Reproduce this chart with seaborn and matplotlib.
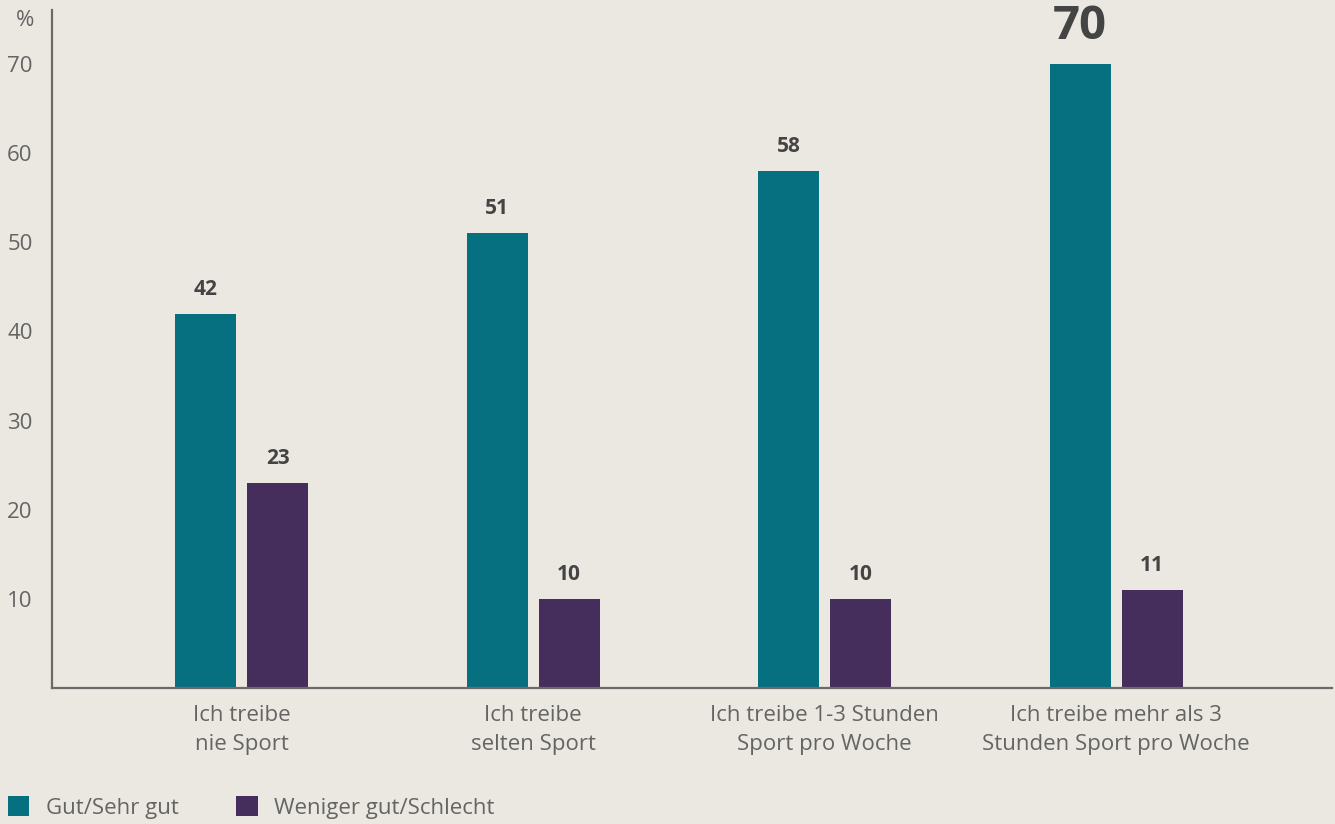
import pandas as pd
import seaborn as sns
import matplotlib.pyplot as plt
from matplotlib.patches import Patch

categories = ["Ich treibe\nnie Sport", "Ich treibe\nselten Sport",
              "Ich treibe 1-3 Stunden\nSport pro Woche",
              "Ich treibe mehr als 3\nStunden Sport pro Woche"]
series = ["Gut/Sehr gut", "Weniger gut/Schlecht"]
gut = [42, 51, 58, 70]
schlecht = [23, 10, 10, 11]
yticks = [10, 20, 30, 40, 50, 60, 70]

bg = "#ebe8e1"
colors = ["#066f80", "#452d5c"]

df = pd.DataFrame({
    "kategorie": categories * 2,
    "gruppe": [series[0]] * 4 + [series[1]] * 4,
    "wert": gut + schlecht,
})

sns.set_style("white")
plt.rcParams["font.family"] = ["Open Sans", "DejaVu Sans"]

fig = plt.figure(figsize=(13.35, 8.24), dpi=100, facecolor=bg)
ax = fig.add_axes([52 / 1335, 136 / 824, 1280 / 1335, 678 / 824])
ax.set_facecolor(bg)

sns.barplot(df, x="kategorie", y="wert", hue="gruppe", palette=colors,
            width=0.494, gap=0.154, ax=ax, legend=False, saturation=1,
            linewidth=0, edgecolor="none")

for cont in ax.containers:
    labels = ax.bar_label(cont, fmt="%d", padding=10, fontsize=15,
                          fontweight="bold", color="#444444")
    for t in labels:
        if t.get_text() == str(max(gut)):
            t.set_fontsize(34)

ax.set_xlim(-0.65, 3.74)
ax.set_ylim(0, 76.06)
ax.set_yticks(yticks)
ax.set_xlabel("")
ax.set_ylabel("")
ax.tick_params(axis="y", direction="in", length=15, width=2, color="#4a4a4a",
               labelsize=16, labelcolor="#646464", pad=14)
ax.tick_params(axis="x", length=0, labelsize=16, labelcolor="#646464", pad=12)
for lbl in ax.get_xticklabels():
    lbl.set_linespacing(1.55)

for s in ["top", "right"]:
    ax.spines[s].set_visible(False)
for s in ["left", "bottom"]:
    ax.spines[s].set_color("#6a6a6a")
    ax.spines[s].set_linewidth(1.6)

fig.text(25 / 1335, 1 - 20 / 824, "%", fontsize=16, color="#646464",
         ha="center", va="center")

handles = [Patch(facecolor=c, edgecolor="none") for c in colors]
fig.legend(handles, series, loc="lower left", bbox_to_anchor=(-0.004, -0.01),
           ncol=2, frameon=False, fontsize=16, labelcolor="#646464",
           handlelength=0.95, handleheight=1.0, handletextpad=0.75,
           columnspacing=2.6, borderaxespad=0.2)

fig.savefig("out.png", dpi=100, facecolor=bg)
